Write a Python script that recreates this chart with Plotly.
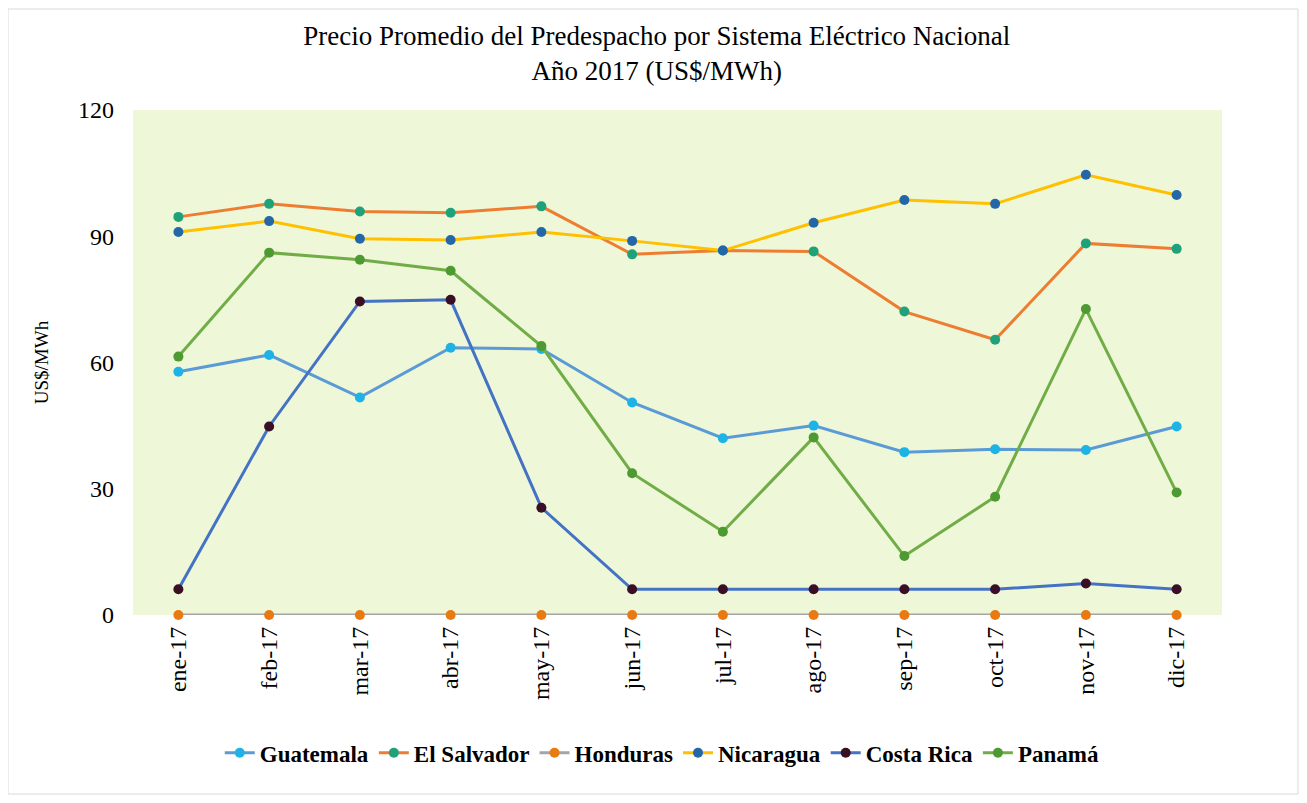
import plotly.graph_objects as go

months = ["ene-17", "feb-17", "mar-17", "abr-17", "may-17", "jun-17",
          "jul-17", "ago-17", "sep-17", "oct-17", "nov-17", "dic-17"]

guatemala = [57.8, 61.8, 51.7, 63.5, 63.2, 50.5, 42.0, 45.0, 38.7, 39.4, 39.2, 44.8]
el_salvador = [94.6, 97.7, 95.9, 95.6, 97.1, 85.7, 86.6, 86.4, 72.1, 65.4, 88.3, 87.0]
honduras = [0, 0, 0, 0, 0, 0, 0, 0, 0, 0, 0, 0]
nicaragua = [91.0, 93.6, 89.4, 89.1, 91.0, 88.9, 86.6, 93.2, 98.6, 97.7, 104.6, 99.8]
costa_rica = [6.1, 44.8, 74.5, 74.9, 25.5, 6.1, 6.1, 6.1, 6.1, 6.1, 7.5, 6.1]
panama = [61.4, 86.1, 84.4, 81.8, 63.9, 33.7, 19.8, 42.2, 14.0, 28.1, 72.7, 29.1]

series = [
    ("Guatemala", guatemala, "#5B9BD5", "#1DB3E6"),
    ("El Salvador", el_salvador, "#ED7D31", "#1FA27A"),
    ("Honduras", honduras, "#A5A5A5", "#E97A12"),
    ("Nicaragua", nicaragua, "#FFC000", "#2467A8"),
    ("Costa Rica", costa_rica, "#4472C4", "#3A0E24"),
    ("Panamá", panama, "#70AD47", "#4E9A32"),
]

fig = go.Figure()
for name, vals, lc, mc in series:
    fig.add_trace(go.Scatter(
        x=months, y=vals, name=name, mode="lines+markers",
        line=dict(color=lc, width=3),
        marker=dict(color=mc, size=10),
        cliponaxis=False,
    ))

font_serif = "Liberation Serif, Times New Roman, serif"

fig.update_layout(
    width=1291, height=787,
    paper_bgcolor="white",
    plot_bgcolor="#EFF7D9",
    margin=dict(l=125, r=77, t=102, b=180),
    font=dict(family=font_serif, color="black"),
    title=dict(
        text="Precio Promedio del Predespacho por Sistema Eléctrico Nacional<br>Año 2017 (US$/MWh)",
        x=0.481, xref="paper", xanchor="center",
        yref="container", y=0.953, yanchor="middle",
        font=dict(family=font_serif, size=27, color="black"),
    ),
    showlegend=True,
    legend=dict(
        orientation="h", x=0.486, xanchor="center", y=-0.273, yanchor="middle",
        font=dict(family=font_serif, size=23, color="black", weight="bold"),
        itemwidth=30, tracegroupgap=0,
        bgcolor="rgba(0,0,0,0)",
    ),
    shapes=[dict(
        type="rect", xref="paper", yref="paper",
        x0=-0.1148, x1=1.0698, y0=-0.3545, y1=1.2,
        line=dict(color="#D9D9D9", width=1), layer="below",
    )],
)

fig.update_xaxes(
    type="category",
    range=[-0.5, 11.5],
    tickangle=-90,
    tickfont=dict(family=font_serif, size=24, color="black"),
    showgrid=False, showline=False, zeroline=False,
    ticks="", ticklen=0, ticklabelstandoff=6,
)
fig.update_yaxes(
    range=[0, 120],
    tickvals=[0, 30, 60, 90, 120],
    tickfont=dict(family=font_serif, size=24, color="black"),
    showgrid=False, zeroline=False, showline=False,
    ticks="", ticklen=0, ticklabelstandoff=18,
    title=dict(text="US$/MWh", font=dict(family=font_serif, size=19, color="black"), standoff=24),
)

fig.write_html("out.html")
